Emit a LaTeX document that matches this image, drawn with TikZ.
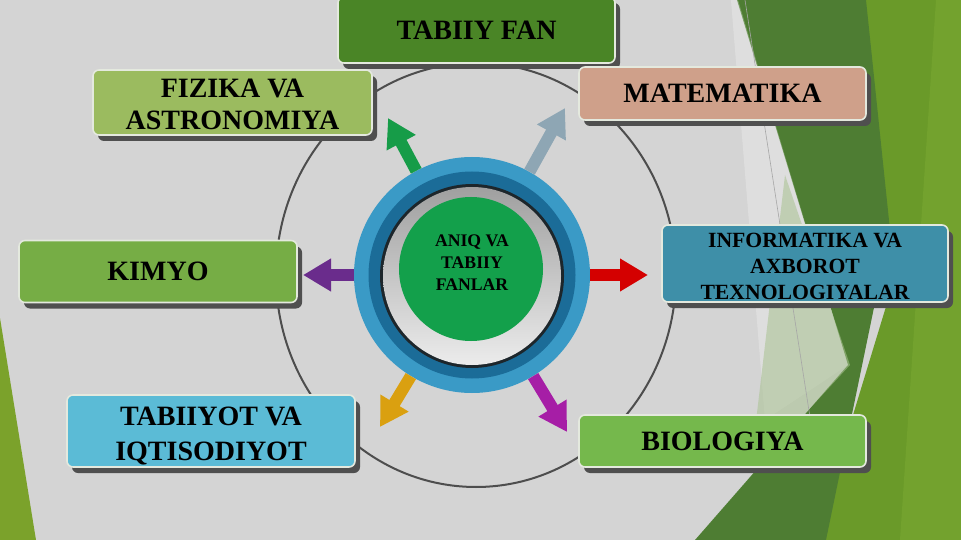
\documentclass[tikz,border=0pt]{standalone}
\usepackage{fontspec}
\setmainfont{Liberation Serif}
\usetikzlibrary{arrows.meta,shadows}
\definecolor{bg}{HTML}{D4D4D4}
\definecolor{olv}{HTML}{6A9A29}
\definecolor{olvl}{HTML}{73A22E}
\definecolor{dkg}{HTML}{4E7D33}
\definecolor{pgreen}{HTML}{A9C291}
\definecolor{lgreen}{HTML}{7BA22B}
\definecolor{circ}{HTML}{4D4D4D}
\definecolor{shd}{HTML}{4F4F4F}
\definecolor{edge}{HTML}{E4E9DE}
\definecolor{cfan}{HTML}{4A8526}
\definecolor{cfiz}{HTML}{9BBB5F}
\definecolor{cmat}{HTML}{CFA08A}
\definecolor{ckim}{HTML}{76AD45}
\definecolor{cinf}{HTML}{3E8FA8}
\definecolor{ctab}{HTML}{5BBBD6}
\definecolor{cbio}{HTML}{75B84C}
\definecolor{ring}{HTML}{3A9AC6}
\definecolor{ringd}{HTML}{1B6C98}
\definecolor{ringk}{HTML}{1D262B}
\definecolor{cgreen}{HTML}{13A04B}
\definecolor{agreen}{HTML}{169C48}
\definecolor{agray}{HTML}{8EA6B4}
\definecolor{apurple}{HTML}{6A2C8C}
\definecolor{ared}{HTML}{D40000}
\definecolor{ayellow}{HTML}{DAA010}
\definecolor{amag}{HTML}{A61EA6}
\tikzset{
  box/.style={rounded corners=6pt, draw=edge, line width=1.6pt, align=center,
    inner sep=0pt, text=black, font=\bfseries\fontsize{28}{32}\selectfont,
    drop shadow={shadow xshift=5pt, shadow yshift=-6pt, fill=shd, opacity=1}},
  arr/.style={line width=12pt, -{Triangle[length=28pt,width=31pt]}},
}
\begin{document}
\begin{tikzpicture}[x=1pt,y=-1pt]
\useasboundingbox (0,0) rectangle (961,540);
\fill[bg] (0,0) rectangle (961,540);
% background theme shapes
\fill[olv] (858,0) -- (961,0) -- (961,540) -- (815,540) -- (888,300) -- cycle;
\fill[olvl] (936,0) -- (961,0) -- (961,540) -- (900,540) -- cycle;
\fill[dkg] (737,0) -- (866,0) -- (890,230) -- (826,540) -- (695,540) -- (848,365) -- cycle;
\fill[white, opacity=0.25] (731,0) -- (738,0) -- (848,365) -- (765,420) -- cycle;
\fill[pgreen, opacity=0.55] (785,175) -- (850,365) -- (790,430) -- (755,430) -- cycle;
\draw[gray!70, line width=0.6pt] (745,0) -- (812,430);
\fill[lgreen] (0,318) -- (36,540) -- (0,540) -- cycle;
% big circle
\draw[circ, line width=2pt] (476,275) ellipse [x radius=200, y radius=212];
% boxes
\node[box, fill=cfan, minimum width=277pt, minimum height=66pt] (fan) at (476.5,30) {TABIIY FAN};
\node[box, fill=cfiz, minimum width=279pt, minimum height=65pt] (fiz) at (232.5,102.5) {\rule{0pt}{22.5pt}FIZIKA VA\\ASTRONOMIYA};
\node[box, fill=cmat, minimum width=287pt, minimum height=53pt] (mat) at (722.5,93.5) {MATEMATIKA};
\node[box, fill=ckim, minimum width=278pt, minimum height=62pt] (kim) at (158,271.5) {KIMYO};
\node[box, fill=cinf, minimum width=286pt, minimum height=77pt, font=\bfseries\fontsize{21.7}{26}\selectfont] (inf) at (805,263.5) {\rule{0pt}{20.5pt}INFORMATIKA VA\\AXBOROT\\TEXNOLOGIYALAR};
\node[box, fill=ctab, minimum width=288pt, minimum height=72pt, font=\bfseries\fontsize{28}{35}\selectfont] (tab) at (211,431) {\rule{0pt}{28.5pt}TABIIYOT VA\\IQTISODIYOT};
\node[box, fill=cbio, minimum width=287pt, minimum height=52pt] (bio) at (722.5,441) {BIOLOGIYA};
% hub
\node[circle, fill=ring, minimum size=236pt, inner sep=0pt] (hub) at (472,275) {};
\node[circle, fill=ringd, minimum size=207pt, inner sep=0pt] (hubd) at (472,275) {};
\node[circle, fill=ringk, minimum size=184pt, inner sep=0pt] (hubk) at (472,276) {};
\node[circle, top color=gray!75, bottom color=gray!15, minimum size=178pt, inner sep=0pt] (hubs) at (472,276) {};
\node[circle, fill=cgreen, minimum width=144pt, minimum height=140pt, inner sep=0pt] (core) at (471,269) {};
\node[align=center, font=\bfseries\fontsize{17.7}{22}\selectfont, text=black] (coretxt) at (472,262.5) {ANIQ VA\\TABIIY\\FANLAR};
% arrow tips
\coordinate (tG) at (388,118);
\coordinate (tB) at (565,108);
\coordinate (tP) at (303,275);
\coordinate (tR) at (648,275);
\coordinate (tY) at (380,427);
\coordinate (tM) at (567,432);
\draw[arr, draw=agreen, fill=agreen] (hub) -- (tG);
\draw[arr, draw=agray, fill=agray] (hub) -- (tB);
\draw[arr, draw=apurple, fill=apurple] (hub) -- (tP);
\draw[arr, draw=ared, fill=ared] (hub) -- (tR);
\draw[arr, draw=ayellow, fill=ayellow] (hub) -- (tY);
\draw[arr, draw=amag, fill=amag] (hub) -- (tM);
\end{tikzpicture}
\end{document}
